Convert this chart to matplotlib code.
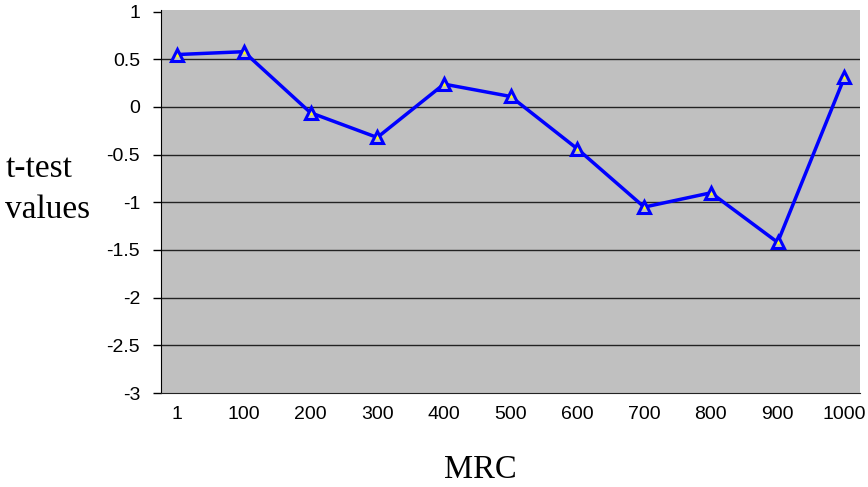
import numpy
from matplotlib import pyplot

# MRC categories and t-test values
categories = ["1", "100", "200", "300", "400", "500", "600", "700", "800", "900", "1000"]
tValues = [0.55, 0.58, -0.06, -0.32, 0.24, 0.11, -0.44, -1.05, -0.90, -1.42, 0.31]
yTicks = [1, 0.5, 0, -0.5, -1, -1.5, -2, -2.5, -3]
yTickLabels = ["1", "0.5", "0", "-0.5", "-1", "-1.5", "-2", "-2.5", "-3"]

pyplot.rcParams['font.family'] = ['Liberation Sans', 'DejaVu Sans']

fig = pyplot.figure(figsize=(8.68, 4.87), dpi=100)
ax = fig.add_axes([0.1855, 0.193, 0.805, 0.787])
ax.set_facecolor('#c0c0c0')

xLoc = numpy.arange(len(categories))

for y in yTicks[1:-1]:
    ax.axhline(y, color='#222222', lw=1.0, zorder=1)

ax.plot(xLoc, tValues, color='#0000ff', lw=2.5, marker='^', ms=9,
        markeredgewidth=2.2, markerfacecolor='#c0c0c0',
        markeredgecolor='#0000ff', zorder=3)
ax.plot(xLoc, tValues, ls='none', marker='^', ms=2.5,
        color='#ffff00', markeredgewidth=0, zorder=4)

ax.set_xlim(-0.24, len(categories) - 1 + 0.23)
ax.set_ylim(-3, 1.02)

ax.set_yticks(yTicks)
ax.set_yticklabels(yTickLabels, fontsize=14)
ax.tick_params(axis='y', length=6, width=1, color='black', pad=9)

ax.set_xticks(xLoc)
ax.set_xticklabels(categories, fontsize=14)
ax.tick_params(axis='x', length=0, pad=9)

for side in ['top', 'right']:
    ax.spines[side].set_visible(False)
ax.spines['left'].set_color('black')
ax.spines['bottom'].set_color('#222222')

fig.text(0.006, 1 - 189 / 487, "t-test\nvalues", ha='left', va='center',
         fontsize=24, family=['Liberation Serif', 'DejaVu Serif'],
         linespacing=1.45)
fig.text(0.553, 1 - 470 / 487, "MRC", ha='center', va='center',
         fontsize=23.5, family=['Liberation Serif', 'DejaVu Serif'])

pyplot.savefig('out.png', dpi=100)
